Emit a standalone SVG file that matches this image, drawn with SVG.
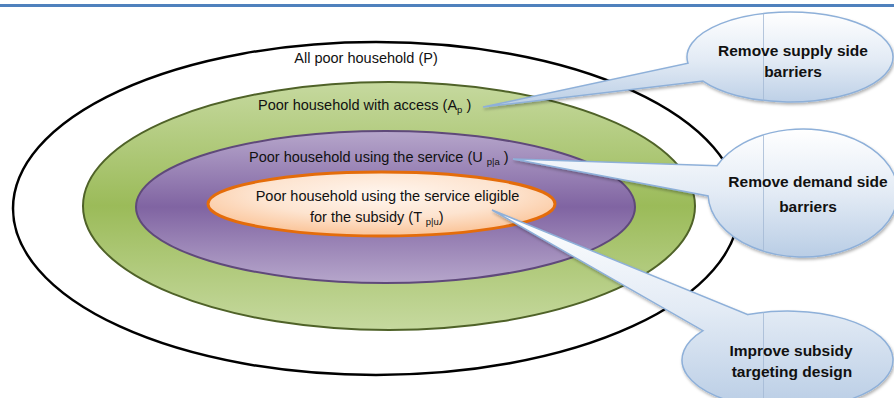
<svg xmlns="http://www.w3.org/2000/svg" width="894" height="398" viewBox="0 0 894 398">
  <defs>
    <linearGradient id="gGreen" x1="0" y1="0" x2="0" y2="1">
      <stop offset="0" stop-color="#c6d99f"/>
      <stop offset="0.5" stop-color="#9bbb59"/>
      <stop offset="1" stop-color="#c6d99f"/>
    </linearGradient>
    <linearGradient id="gPurple" x1="0" y1="0" x2="0" y2="1">
      <stop offset="0" stop-color="#b6a6cb"/>
      <stop offset="0.5" stop-color="#8064a2"/>
      <stop offset="1" stop-color="#b6a6cb"/>
    </linearGradient>
    <radialGradient id="gOrange" cx="0.5" cy="0.35" r="0.6">
      <stop offset="0" stop-color="#fff6ef"/>
      <stop offset="0.6" stop-color="#fde4d0"/>
      <stop offset="1" stop-color="#fbc89f"/>
    </radialGradient>
    <linearGradient id="gCallout" x1="0" y1="0" x2="0" y2="1">
      <stop offset="0" stop-color="#ffffff"/>
      <stop offset="0.5" stop-color="#e3ebf5"/>
      <stop offset="1" stop-color="#b9cde5"/>
    </linearGradient>
    <filter id="shadow" x="-10%" y="-10%" width="125%" height="130%">
      <feDropShadow dx="1" dy="2" stdDeviation="1.5" flood-color="#000" flood-opacity="0.3"/>
    </filter>
  </defs>
  <style>
    .lbl { font-family: "Liberation Sans", Arial, sans-serif; font-size: 14.5px; fill: #111; }
    .sub { font-size: 9.5px; }
    .co { fill: url(#gCallout); stroke: #8eb0d9; stroke-width: 1.5; filter: url(#shadow); }
    .seam { stroke: #a3b9d4; stroke-width: 0.8; }
    .cot { font-family: "Liberation Sans", Arial, sans-serif; font-size: 15.5px; font-weight: bold; fill: #111; text-anchor: middle; }
  </style>

  <rect x="0" y="4" width="894" height="3" fill="#4f81bd"/>

  <g id="all-poor">
    <ellipse cx="376" cy="208.5" rx="363" ry="166.5" fill="#fff" stroke="#000" stroke-width="2.5"/>
    <text class="lbl" x="366" y="63" text-anchor="middle">All poor household (P)</text>
  </g>
  <g id="access">
    <ellipse cx="389" cy="206" rx="306" ry="124" fill="url(#gGreen)" stroke="#4f6228" stroke-width="2"/>
    <text class="lbl" x="258" y="109.5">Poor household with access (A<tspan class="sub" dy="3">p</tspan><tspan dy="-3"> )</tspan></text>
  </g>
  <g id="using">
    <ellipse cx="385.5" cy="207" rx="249.5" ry="76" fill="url(#gPurple)" stroke="#5f497a" stroke-width="2"/>
    <text class="lbl" x="249" y="162">Poor household using the service (U <tspan class="sub" dy="3">p|a</tspan><tspan dy="-3"> )</tspan></text>
  </g>
  <g id="eligible">
    <ellipse cx="381.5" cy="204" rx="173.5" ry="32" fill="url(#gOrange)" stroke="#e46c0a" stroke-width="3"/>
    <text class="lbl" x="387.5" y="201" text-anchor="middle">Poor household using the service eligible</text>
    <text class="lbl" x="310" y="222">for the subsidy (T <tspan class="sub" dy="3">p|u</tspan><tspan dy="-3">)</tspan></text>
  </g>

  <g id="connectors">
    <path class="co" d="M688,63.3 A103,45 0 1 1 703,81.1 L483,107 Z"/>
    <path class="co" d="M717,165.8 A95,64 0 1 1 708.1,196 L513,159 Z"/>
    <path class="co" d="M748,314.6 A105.5,49 0 1 1 703,330.7 L492,210 Z"/>
  </g>

  <g id="callout-supply">
    <line class="seam" x1="763.5" y1="13.5" x2="763.5" y2="100.5"/>
    <text class="cot" x="793" y="56">Remove supply side</text>
    <text class="cot" x="793" y="77">barriers</text>
  </g>
  <g id="callout-demand">
    <line class="seam" x1="763.5" y1="134.8" x2="763.5" y2="251.2"/>
    <text class="cot" x="808" y="187">Remove demand side</text>
    <text class="cot" x="808" y="212">barriers</text>
  </g>
  <g id="callout-targeting">
    <line class="seam" x1="763.5" y1="312.3" x2="763.5" y2="398"/>
    <text class="cot" x="791" y="356">Improve subsidy</text>
    <text class="cot" x="792" y="377">targeting design</text>
  </g>
</svg>
